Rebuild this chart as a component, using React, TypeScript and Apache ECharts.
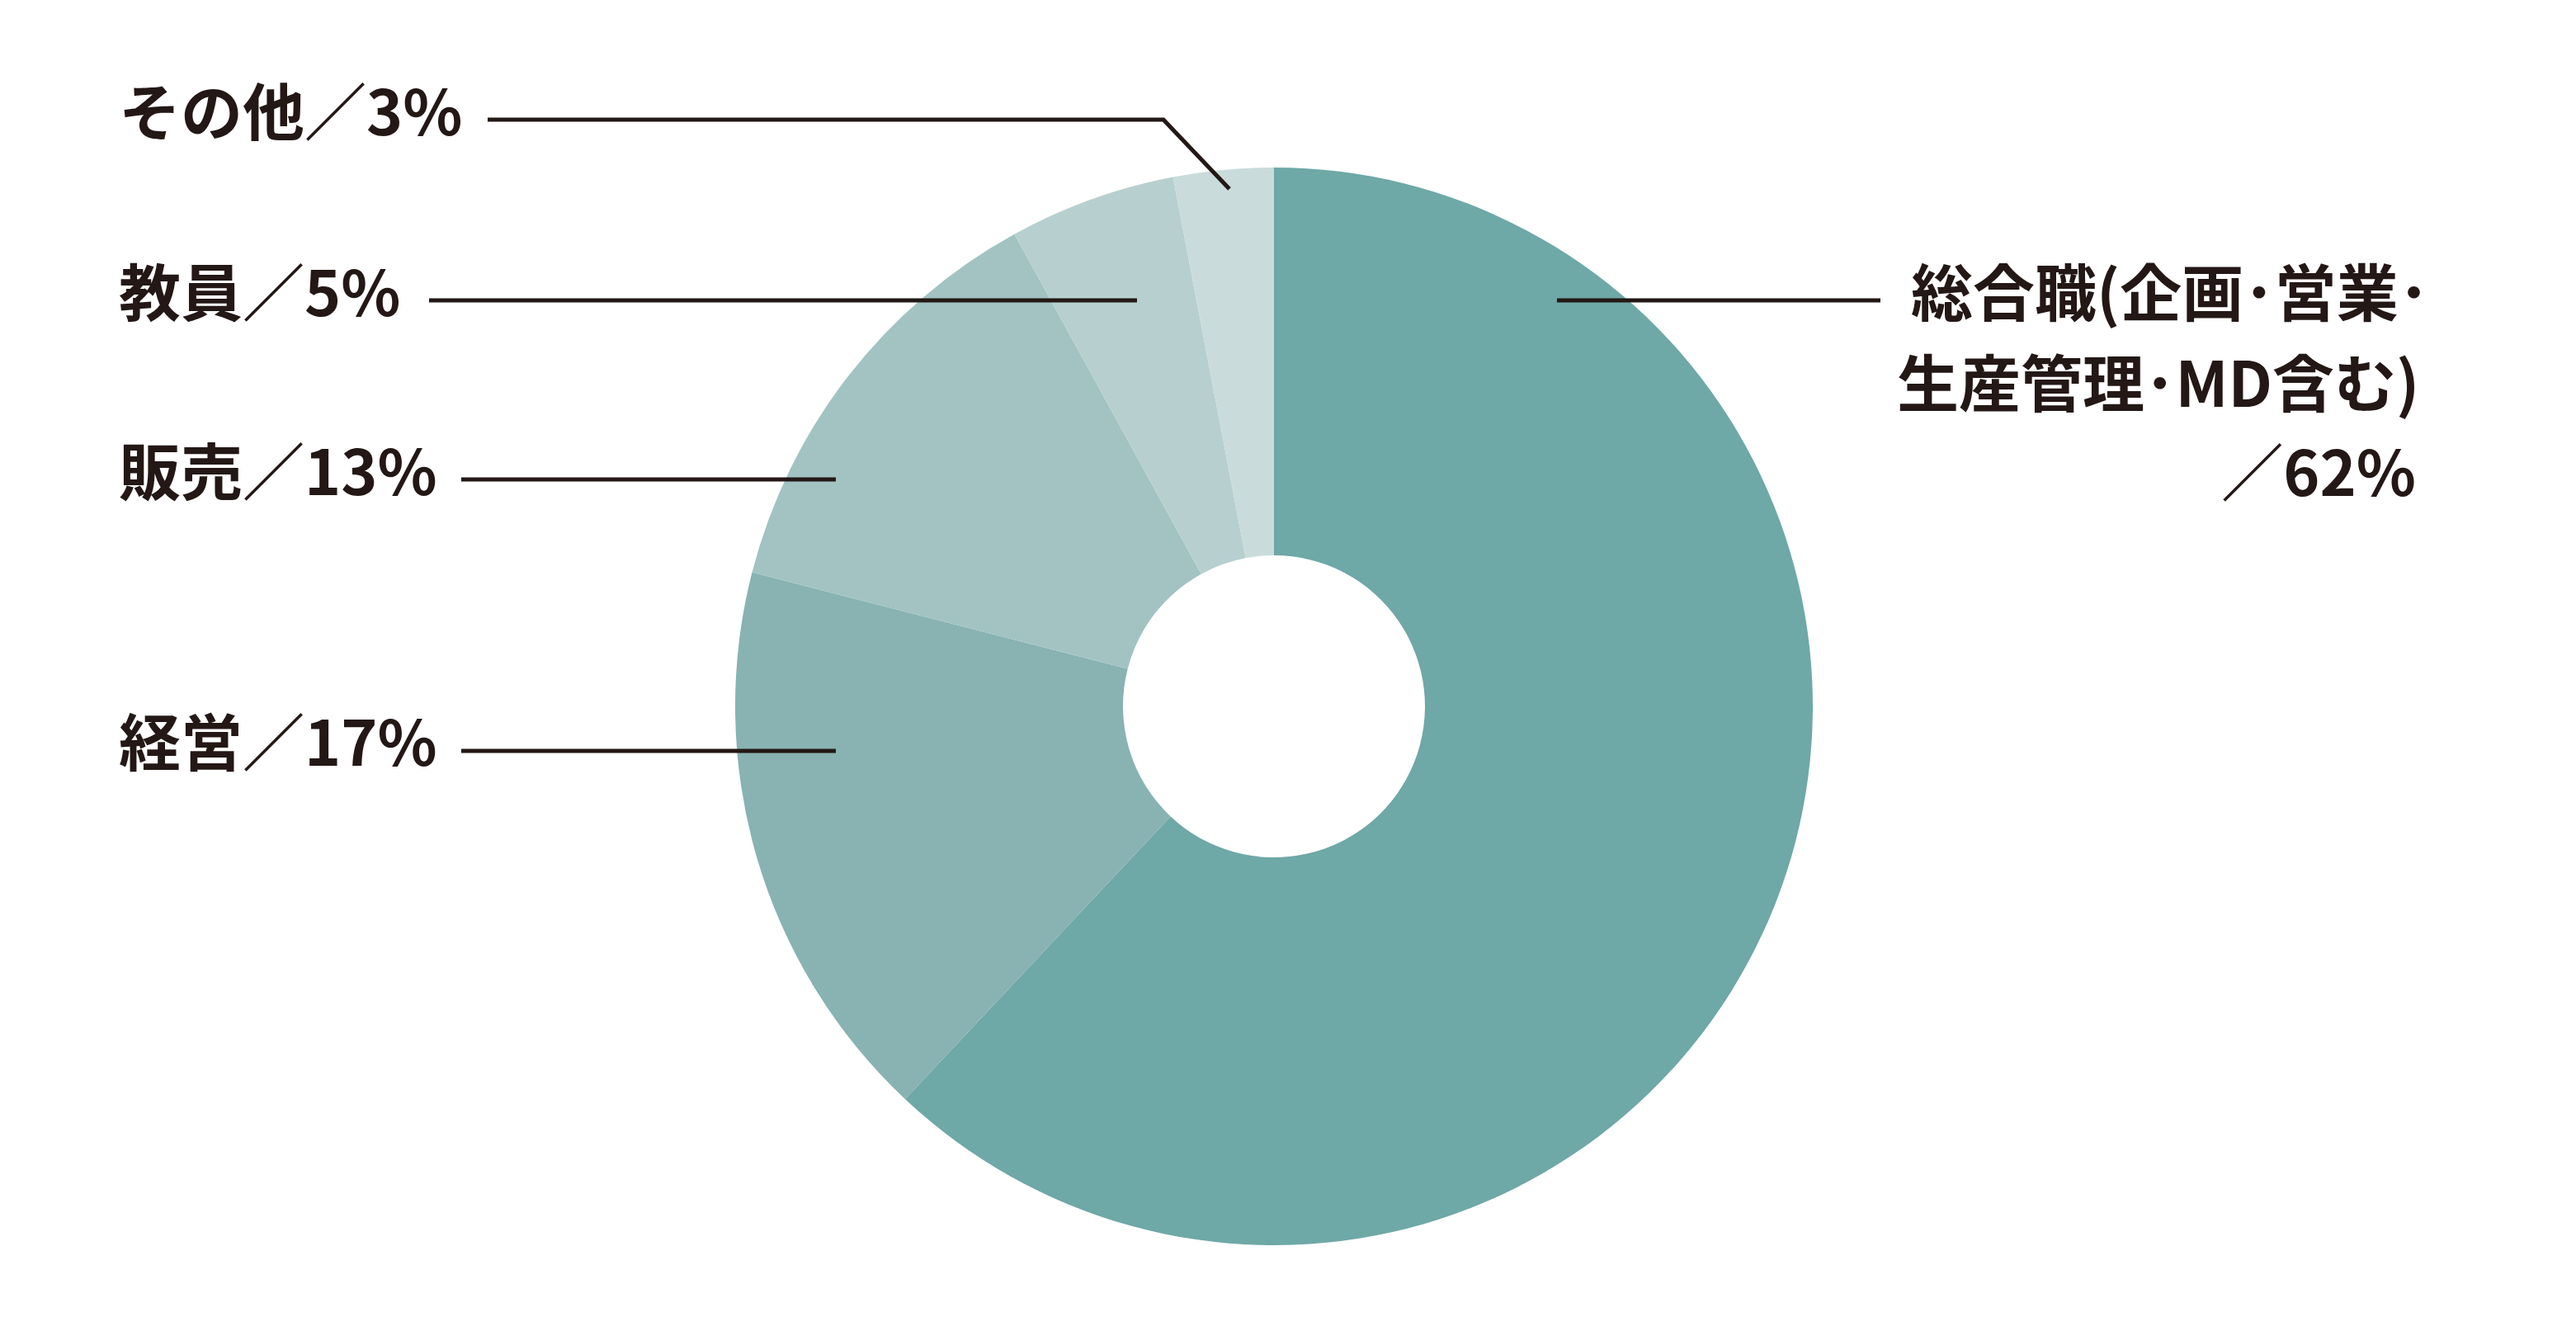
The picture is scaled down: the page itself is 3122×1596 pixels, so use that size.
import React, { useEffect, useRef } from "react";
import * as echarts from "echarts";

const categories = ["総合職(企画･営業･生産管理･MD含む)", "経営", "販売", "教員", "その他"];
const values = [62, 17, 13, 5, 3];
const colors = ["#6ea8a7", "#88b3b2", "#a2c3c2", "#b7d0cf", "#c9dcdb"];

const INK = "#231815";
const FONT = "'Noto Sans CJK JP', 'Noto Sans CJK SC', sans-serif";

export default function App() {
  const ref = useRef<HTMLDivElement>(null);
  useEffect(() => {
    document.body.style.margin = "0";
    const chart = echarts.init(ref.current!, null, { renderer: "svg" });
    const label = (i: number) => `${categories[i]}／${values[i]}%`;
    const textStyle = (t: string, x: number, y: number, align: string) => ({
      type: "text",
      x,
      y,
      z: 100,
      style: {
        text: t,
        fill: INK,
        font: `bold 75px ${FONT}`,
        fontFamily: FONT,
        fontSize: 75,
        fontWeight: "bold",
        align,
        verticalAlign: "middle",
      },
    });
    const lineStyle = { stroke: INK, lineWidth: 5 };
    const mainName = categories[0];
    const graphic: any[] = [
      // left labels
      textStyle(label(4), 144, 131, "left"),
      textStyle(label(3), 144, 350, "left"),
      textStyle(label(2), 144, 567, "left"),
      textStyle(label(1), 144, 895, "left"),
      // right label, three lines
      textStyle(mainName.slice(0, 10), 2316, 350, "left"),
      textStyle(mainName.slice(10), 2299, 460, "left"),
      textStyle(`／${values[0]}%`, 2928, 568, "right"),
      // leader lines
      { type: "polyline", z: 100, shape: { points: [[591, 145], [1410, 145], [1490, 229]] }, style: { ...lineStyle, fill: null } },
      { type: "line", z: 100, shape: { x1: 520, y1: 364, x2: 1378, y2: 364 }, style: lineStyle },
      { type: "line", z: 100, shape: { x1: 559, y1: 581, x2: 1013, y2: 581 }, style: lineStyle },
      { type: "line", z: 100, shape: { x1: 559, y1: 910, x2: 1013, y2: 910 }, style: lineStyle },
      { type: "line", z: 100, shape: { x1: 1887, y1: 364, x2: 2279, y2: 364 }, style: lineStyle },
    ];
    chart.setOption({
      animation: false,
      backgroundColor: "#ffffff",
      series: [
        {
          type: "pie",
          center: [1544, 856],
          radius: [183, 653],
          startAngle: 90,
          clockwise: true,
          label: { show: false },
          labelLine: { show: false },
          itemStyle: { borderWidth: 0 },
          emphasis: { disabled: true },
          data: categories.map((name, i) => ({
            name,
            value: values[i],
            itemStyle: { color: colors[i] },
          })),
        },
      ],
      graphic,
    });
    return () => chart.dispose();
  }, []);
  return <div ref={ref} style={{ width: 3122, height: 1596 }} />;
}
